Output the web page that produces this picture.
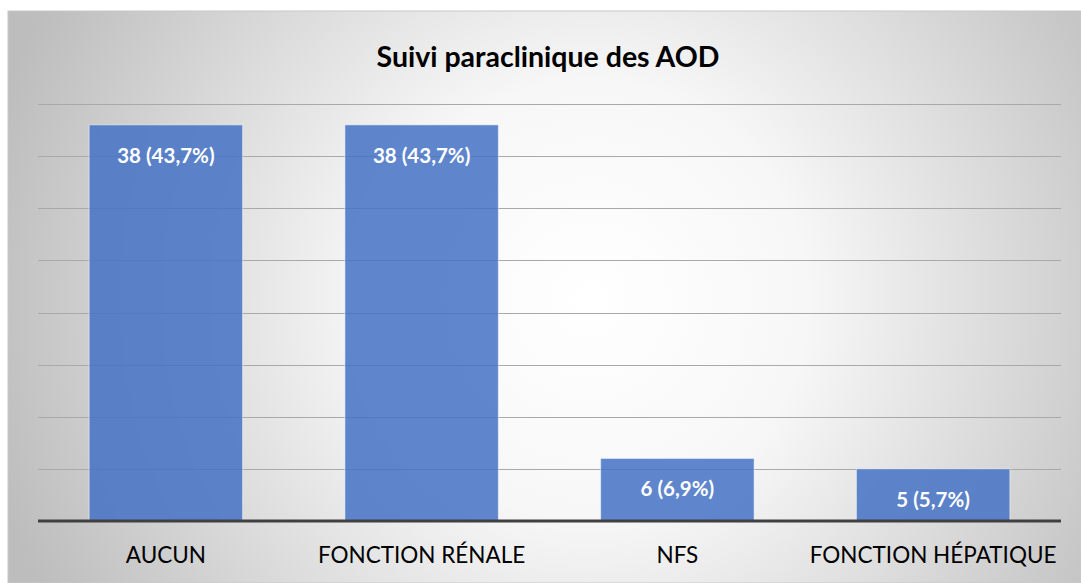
<!DOCTYPE html>
<html>
<head>
<meta charset="utf-8">
<script src="https://cdn.jsdelivr.net/npm/d3@7"></script>
<style>
  html, body { margin: 0; padding: 0; background: #fff; }
  svg { display: block; }
  text { font-family: Lato, "Open Sans", sans-serif; }
</style>
</head>
<body>
<div id="vis"></div>
<script>
// chart data
const categories = ["AUCUN", "FONCTION RÉNALE", "NFS", "FONCTION HÉPATIQUE"];
const counts = [38, 38, 6, 5];
const percents = ["43,7%", "43,7%", "6,9%", "5,7%"];
const yTicks = [0, 5, 10, 15, 20, 25, 30, 35, 40];

const width = 1081;
const height = 583;

// plot area, matched to the picture
const plot = { left: 38, right: 1061, top: 104, bottom: 521 };

const svg = d3
  .select("#vis")
  .append("svg")
  .attr("width", width)
  .attr("height", height);

// background gradient: white in the middle, grey towards the edges
const defs = svg.append("defs");
const grad = defs
  .append("radialGradient")
  .attr("id", "bg")
  .attr("gradientUnits", "userSpaceOnUse")
  .attr("cx", 590)
  .attr("cy", 300)
  .attr("r", 620);
grad.append("stop").attr("offset", "0%").attr("stop-color", "#ffffff");
grad.append("stop").attr("offset", "35%").attr("stop-color", "#f7f7f7");
grad.append("stop").attr("offset", "100%").attr("stop-color", "#bdbdbd");

svg
  .append("rect")
  .attr("x", 8)
  .attr("y", 11)
  .attr("width", width - 8)
  .attr("height", height - 11)
  .attr("fill", "url(#bg)")
  .attr("stroke", "#c8c8c8")
  .attr("stroke-width", 1);

const x = d3
  .scaleBand()
  .domain(categories)
  .range([plot.left, plot.right])
  .paddingInner(0.4)
  .paddingOuter(0.2);

const y = d3
  .scaleLinear()
  .domain([0, 40])
  .range([plot.bottom, plot.top]);

// gridlines
svg
  .append("g")
  .selectAll("line")
  .data(yTicks.filter((d) => d > 0))
  .enter()
  .append("line")
  .attr("x1", plot.left)
  .attr("x2", plot.right)
  .attr("y1", (d) => Math.round(y(d)) + 0.5)
  .attr("y2", (d) => Math.round(y(d)) + 0.5)
  .attr("stroke", "#a9a9a9")
  .attr("stroke-width", 1);

// bars
svg
  .append("g")
  .selectAll("rect")
  .data(counts)
  .enter()
  .append("rect")
  .attr("x", (d, i) => x(categories[i]))
  .attr("y", (d) => y(d))
  .attr("width", x.bandwidth())
  .attr("height", (d) => y(0) - y(d))
  .attr("fill", "#4472c4")
  .attr("fill-opacity", 0.85)
  .attr("stroke", "#ffffff")
  .attr("stroke-opacity", 0.5)
  .attr("stroke-width", 1);

// value labels inside the bar tops
svg
  .append("g")
  .selectAll("text")
  .data(counts)
  .enter()
  .append("text")
  .attr("x", (d, i) => x(categories[i]) + x.bandwidth() / 2)
  .attr("y", (d) => y(d) + 38)
  .attr("text-anchor", "middle")
  .attr("fill", "#ffffff")
  .attr("font-weight", "bold")
  .attr("font-size", 20.5)
  .text((d, i) => `${d} (${percents[i]})`);

// baseline axis
svg
  .append("line")
  .attr("x1", plot.left)
  .attr("x2", plot.right)
  .attr("y1", y(0))
  .attr("y2", y(0))
  .attr("stroke", "#404040")
  .attr("stroke-width", 3);

// category labels
svg
  .append("g")
  .selectAll("text")
  .data(categories)
  .enter()
  .append("text")
  .attr("x", (d) => x(d) + x.bandwidth() / 2)
  .attr("y", 563)
  .attr("text-anchor", "middle")
  .attr("fill", "#000")
  .attr("font-size", 22.5)
  .text((d) => d);

// title
svg
  .append("text")
  .attr("x", 548)
  .attr("y", 67)
  .attr("text-anchor", "middle")
  .attr("font-weight", "bold")
  .attr("font-size", 28.5)
  .attr("fill", "#000")
  .text("Suivi paraclinique des AOD");
</script>
</body>
</html>
